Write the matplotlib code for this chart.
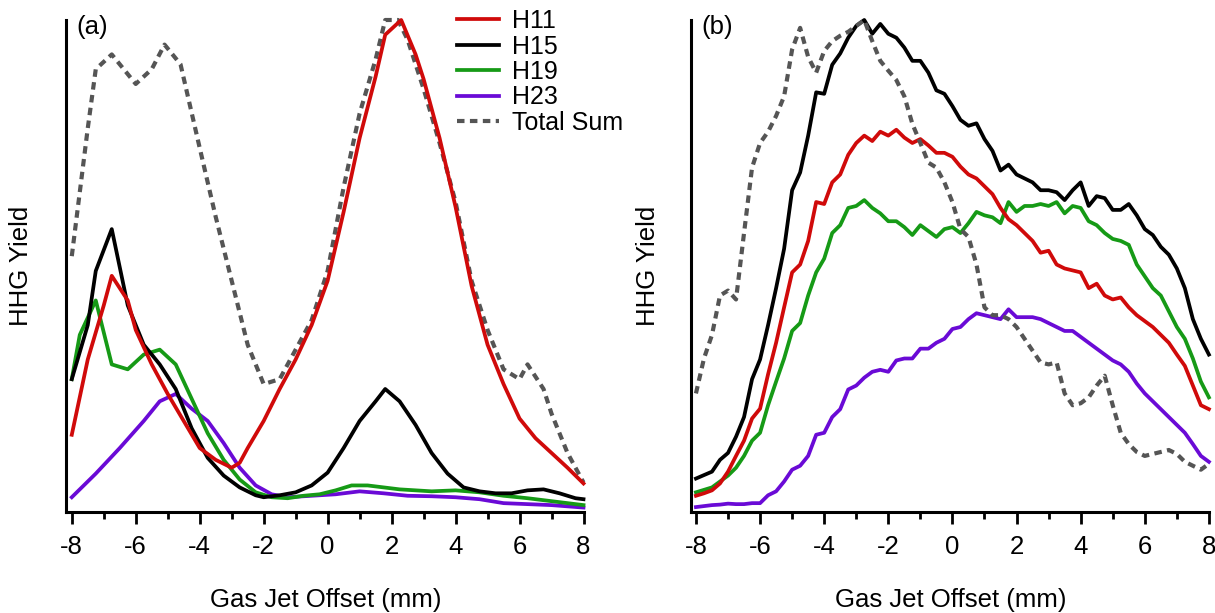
import numpy as np
import matplotlib
matplotlib.use('Agg')
import matplotlib.pyplot as plt

plt.rcParams['font.family'] = ['Liberation Sans', 'DejaVu Sans']
plt.rcParams['axes.unicode_minus'] = False

# ---- panel (a): coarse scan (0 = axis, 1 = top)
a_x_h11 = [-8, -7.5, -7, -6.75, -6.25, -6, -5.5, -5, -4.5, -4, -3.5, -3, -2.75, -2.5,
           -2, -1.5, -1, -0.5, 0, 0.5, 1, 1.5, 1.8, 2.3, 2.75, 3, 3.5, 4, 4.5, 5,
           5.5, 6, 6.5, 7, 7.5, 8]
a_h11 = [0.157, 0.31, 0.42, 0.48, 0.43, 0.37, 0.30, 0.24, 0.185, 0.13, 0.106, 0.09, 0.10, 0.13,
         0.185, 0.25, 0.31, 0.38, 0.47, 0.61, 0.76, 0.885, 0.97, 1.0, 0.93, 0.88, 0.76, 0.62, 0.46, 0.34,
         0.26, 0.19, 0.15, 0.12, 0.09, 0.058]

a_x_h15 = [-8, -7.5, -7.25, -6.75, -6.25, -5.75, -5.25, -4.75, -4.25, -3.75, -3.25, -2.75,
           -2.25, -2, -1.5, -1, -0.5, 0, 0.5, 1, 1.5, 1.8, 2.25, 2.75, 3.25, 3.75, 4.25,
           4.75, 5.25, 5.75, 6.25, 6.75, 7.25, 7.75, 8]
a_h15 = [0.27, 0.38, 0.49, 0.575, 0.42, 0.34, 0.30, 0.25, 0.17, 0.11, 0.074, 0.05,
         0.034, 0.03, 0.034, 0.04, 0.054, 0.08, 0.13, 0.185, 0.225, 0.25, 0.225, 0.177, 0.12, 0.078, 0.05,
         0.042, 0.038, 0.038, 0.044, 0.046, 0.038, 0.028, 0.026]

a_x_h19 = [-8, -7.75, -7.25, -6.75, -6.25, -5.75, -5.25, -4.75, -4.25, -3.75, -3.25, -2.75,
           -2.25, -1.75, -1.25, -0.75, -0.25, 0.25, 0.75, 1.25, 1.75, 2.25, 2.75, 3.25, 4,
           4.75, 5.5, 6.25, 7, 8]
a_h19 = [0.27, 0.36, 0.43, 0.30, 0.29, 0.32, 0.33, 0.30, 0.23, 0.16, 0.106, 0.066,
         0.04, 0.03, 0.028, 0.033, 0.036, 0.044, 0.054, 0.054, 0.05, 0.046, 0.044, 0.042, 0.044,
         0.04, 0.033, 0.028, 0.022, 0.014]

a_x_h23 = [-8, -7.25, -6.5, -5.75, -5.25, -4.75, -4.25, -3.75, -3.25, -2.75, -2.25, -1.75,
           -1.25, -0.5, 0.25, 1, 1.75, 2.5, 3.25, 4, 4.75, 5.5, 6.25, 7, 8]
a_h23 = [0.03, 0.078, 0.13, 0.185, 0.225, 0.24, 0.21, 0.185, 0.14, 0.09, 0.054, 0.036,
         0.03, 0.033, 0.036, 0.042, 0.038, 0.033, 0.032, 0.03, 0.026, 0.018, 0.016, 0.014, 0.009]

a_x_sum = [-8, -7.5, -7.25, -6.75, -6, -5.5, -5.1, -4.6, -4, -3.5, -3, -2.5, -2, -1.5,
           -1, -0.5, 0, 0.5, 1, 1.5, 1.8, 2.2, 2.5, 3, 3.5, 4, 4.5, 5, 5.5, 6, 6.25,
           6.75, 7, 7.5, 8]
a_sum = [0.52, 0.78, 0.90, 0.93, 0.87, 0.90, 0.95, 0.91, 0.74, 0.60, 0.47, 0.34, 0.26, 0.27,
         0.33, 0.39, 0.49, 0.66, 0.81, 0.92, 1.0, 1.0, 0.96, 0.86, 0.75, 0.63, 0.47, 0.37, 0.29, 0.27, 0.30,
         0.25, 0.20, 0.12, 0.06]

# ---- panel (b): fine scan, 0.25 mm steps
b_x = np.arange(-8, 8.01, 0.25)
b_h11 = [0.033, 0.038, 0.044, 0.058, 0.082, 0.114, 0.145, 0.19,
         0.21, 0.28, 0.344, 0.416, 0.487, 0.503, 0.551, 0.63,
         0.626, 0.67, 0.686, 0.726, 0.75, 0.765, 0.754, 0.773,
         0.765, 0.777, 0.761, 0.75, 0.758, 0.745, 0.73, 0.73,
         0.722, 0.702, 0.686, 0.678, 0.662, 0.646, 0.618, 0.595,
         0.583, 0.567, 0.551, 0.527, 0.531, 0.503, 0.495, 0.491,
         0.487, 0.455, 0.464, 0.44, 0.432, 0.436, 0.416, 0.40,
         0.388, 0.376, 0.36, 0.344, 0.32, 0.297, 0.257, 0.217,
         0.209]
b_h15 = [0.068, 0.075, 0.082, 0.106, 0.12, 0.153, 0.193, 0.27,
         0.31, 0.38, 0.455, 0.535, 0.654, 0.69, 0.765, 0.853,
         0.85, 0.909, 0.932, 0.964, 0.988, 1.0, 0.972, 0.992,
         0.972, 0.964, 0.944, 0.917, 0.917, 0.893, 0.857, 0.85,
         0.825, 0.797, 0.785, 0.79, 0.758, 0.734, 0.694, 0.706,
         0.686, 0.678, 0.67, 0.654, 0.654, 0.65, 0.634, 0.654,
         0.67, 0.622, 0.642, 0.638, 0.614, 0.614, 0.626, 0.603,
         0.575, 0.563, 0.539, 0.523, 0.495, 0.455, 0.392, 0.352,
         0.32]
b_h19 = [0.04, 0.045, 0.05, 0.062, 0.074, 0.09, 0.114, 0.145,
         0.161, 0.217, 0.265, 0.312, 0.368, 0.384, 0.44, 0.487,
         0.515, 0.567, 0.583, 0.618, 0.622, 0.634, 0.618, 0.607,
         0.591, 0.591, 0.579, 0.563, 0.583, 0.571, 0.559, 0.575,
         0.579, 0.567, 0.587, 0.61, 0.603, 0.599, 0.587, 0.63,
         0.61, 0.622, 0.622, 0.626, 0.622, 0.63, 0.607, 0.622,
         0.618, 0.591, 0.583, 0.567, 0.555, 0.551, 0.543, 0.503,
         0.479, 0.455, 0.44, 0.408, 0.376, 0.352, 0.312, 0.265,
         0.233]
b_h23 = [0.01, 0.012, 0.014, 0.015, 0.017, 0.016, 0.016, 0.018,
         0.018, 0.034, 0.042, 0.062, 0.086, 0.094, 0.114, 0.157,
         0.161, 0.193, 0.209, 0.249, 0.257, 0.273, 0.285, 0.289,
         0.285, 0.308, 0.312, 0.312, 0.332, 0.332, 0.344, 0.352,
         0.372, 0.376, 0.392, 0.404, 0.40, 0.396, 0.392, 0.412,
         0.396, 0.396, 0.396, 0.392, 0.384, 0.376, 0.368, 0.368,
         0.356, 0.344, 0.332, 0.32, 0.308, 0.30, 0.285, 0.261,
         0.241, 0.225, 0.209, 0.193, 0.177, 0.161, 0.138, 0.114,
         0.102]
b_sum = [0.241, 0.312, 0.36, 0.44, 0.45, 0.432, 0.567, 0.70,
         0.75, 0.773, 0.805, 0.845, 0.94, 0.984, 0.925, 0.893,
         0.937, 0.957, 0.968, 0.976, 0.988, 1.0, 0.957, 0.917,
         0.897, 0.878, 0.845, 0.789, 0.75, 0.71, 0.70, 0.67,
         0.63, 0.575, 0.559, 0.503, 0.416, 0.40, 0.40, 0.392,
         0.376, 0.352, 0.328, 0.304, 0.30, 0.304, 0.241, 0.217,
         0.221, 0.233, 0.257, 0.277, 0.217, 0.161, 0.138, 0.122,
         0.114, 0.118, 0.122, 0.126, 0.118, 0.102, 0.094, 0.086,
         0.098]

labels = ['H11', 'H15', 'H19', 'H23', 'Total Sum']
colors = ['#d00a0a', '#000000', '#169a16', '#6a0ad6', '#555555']

W, H = 1215, 613
fs = 18.5
fig = plt.figure(figsize=(W / 100, H / 100), dpi=100)
ax_a = fig.add_axes([65.7 / W, 1 - 512 / H, 519.4 / W, 492 / H])
ax_b = fig.add_axes([690.5 / W, 1 - 512 / H, 520.0 / W, 492 / H])

lw = 2.7
sum_style = dict(color=colors[4], lw=3.0, dashes=(1.8, 1.3), dash_capstyle='butt')

# panel (a)
ax_a.plot(a_x_sum, a_sum, zorder=1, **sum_style, label=labels[4])
ax_a.plot(a_x_h23, a_h23, color=colors[3], lw=lw, zorder=2, label=labels[3])
ax_a.plot(a_x_h19, a_h19, color=colors[2], lw=lw, zorder=3, label=labels[2])
ax_a.plot(a_x_h15, a_h15, color=colors[1], lw=lw, zorder=4, label=labels[1])
ax_a.plot(a_x_h11, a_h11, color=colors[0], lw=lw, zorder=5, label=labels[0])

# panel (b)
ax_b.plot(b_x, b_h23, color=colors[3], lw=lw, zorder=2)
ax_b.plot(b_x, b_h19, color=colors[2], lw=lw, zorder=3)
ax_b.plot(b_x, b_h11, color=colors[0], lw=lw, zorder=4)
ax_b.plot(b_x, b_h15, color=colors[1], lw=lw, zorder=5)
ax_b.plot(b_x, b_sum, zorder=6, **sum_style)

for ax, xl, tag, ylx in [(ax_a, -8.19, '(a)', -0.062), (ax_b, -8.17, '(b)', -0.058)]:
    ax.set_xlim(xl, 8.05)
    ax.set_ylim(0, 1)
    for ln in ax.get_lines():
        ln.set_clip_on(False)
    ax.spines['top'].set_visible(False)
    ax.spines['right'].set_visible(False)
    ax.spines['left'].set_linewidth(2.2)
    ax.spines['bottom'].set_linewidth(2.2)
    ax.spines['bottom'].set_bounds(xl, 8.0)
    ax.set_yticks([])
    ax.set_xticks(np.arange(-8, 9, 2))
    ax.set_xticks(np.arange(-7, 8, 2), minor=True)
    ax.tick_params(axis='x', which='major', direction='out', length=8.5, width=2.0,
                   labelsize=fs, pad=8)
    ax.tick_params(axis='x', which='minor', direction='out', length=5, width=2.0)
    ax.set_xlabel('Gas Jet Offset (mm)', fontsize=fs)
    ax.xaxis.set_label_coords(0.5, -0.155)
    ax.set_ylabel('HHG Yield', fontsize=fs)
    ax.yaxis.set_label_coords(ylx, 0.5)
    ax.text(0.02, 0.985, tag, transform=ax.transAxes, fontsize=fs, va='center', ha='left')

handles, labs = ax_a.get_legend_handles_labels()
order = [labs.index(l) for l in labels]
leg = ax_a.legend([handles[i] for i in order], [labs[i] for i in order],
                  loc='upper left', bbox_to_anchor=(457 / W, 1 - 9 / H),
                  bbox_transform=fig.transFigure, frameon=False, fontsize=18,
                  handlelength=1.7, handletextpad=0.5, labelspacing=0.06,
                  borderpad=0, borderaxespad=0)

fig.savefig('out.png', dpi=100)
